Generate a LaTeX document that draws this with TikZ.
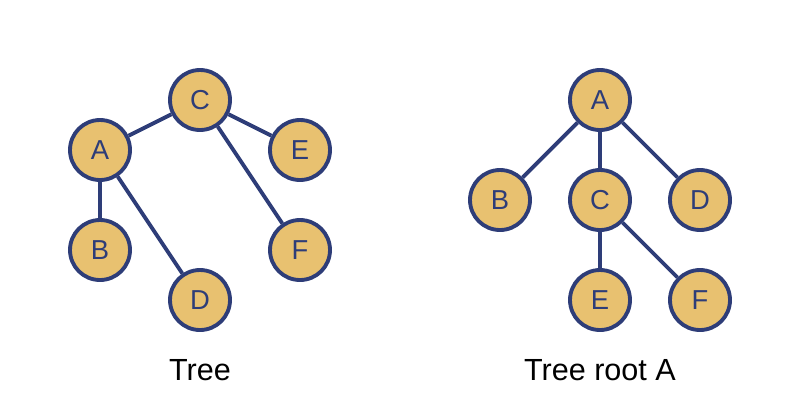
\documentclass[tikz,border=0pt]{standalone}
\usepackage{fontspec}
\setmainfont{Liberation Sans}
\usepackage{tikz}
\usetikzlibrary{positioning}

\definecolor{vtxfill}{HTML}{E8C170}
\definecolor{vtxline}{HTML}{2E3D78}

\tikzset{
  vtx/.style={circle, draw=vtxline, fill=vtxfill, line width=1.1pt,
    minimum size=0.6cm, inner sep=0pt, text=vtxline, font=\fontsize{7.8}{9}\selectfont},
  edg/.style={draw=vtxline, line width=1.1pt},
  caption/.style={font=\fontsize{8.7}{10}\selectfont}
}

\begin{document}
\begin{tikzpicture}[scale=1.0]
      \useasboundingbox (0,0) rectangle (8,4);
      % tree
      \node[vtx] (lC) at (2,3) {C};
      \node[vtx] (lA) at (1,2.5) {A};
      \node[vtx] (lE) at (3,2.5) {E};
      \node[vtx] (lB) at (1,1.5) {B};
      \node[vtx] (lD) at (2,1) {D};
      \node[vtx] (lF) at (3,1.5) {F};
      \draw[edg] (lA) -- (lC);
      \draw[edg] (lC) -- (lE);
      \draw[edg] (lC) -- (lF);
      \draw[edg] (lA) -- (lB);
      \draw[edg] (lA) -- (lD);
      \node[caption] (ltitle) at (2,0.3) {Tree};
      % tree root A
      \node[vtx] (rA) at (6,3) {A};
      \node[vtx] (rB) at (5,2) {B};
      \node[vtx] (rC) at (6,2) {C};
      \node[vtx] (rD) at (7,2) {D};
      \node[vtx] (rE) at (6,1) {E};
      \node[vtx] (rF) at (7,1) {F};
      \draw[edg] (rA) -- (rB);
      \draw[edg] (rA) -- (rC);
      \draw[edg] (rA) -- (rD);
      \draw[edg] (rC) -- (rE);
      \draw[edg] (rC) -- (rF);
      \node[caption] (rtitle) at (6,0.3) {Tree root A};
    \end{tikzpicture}
\end{document}
